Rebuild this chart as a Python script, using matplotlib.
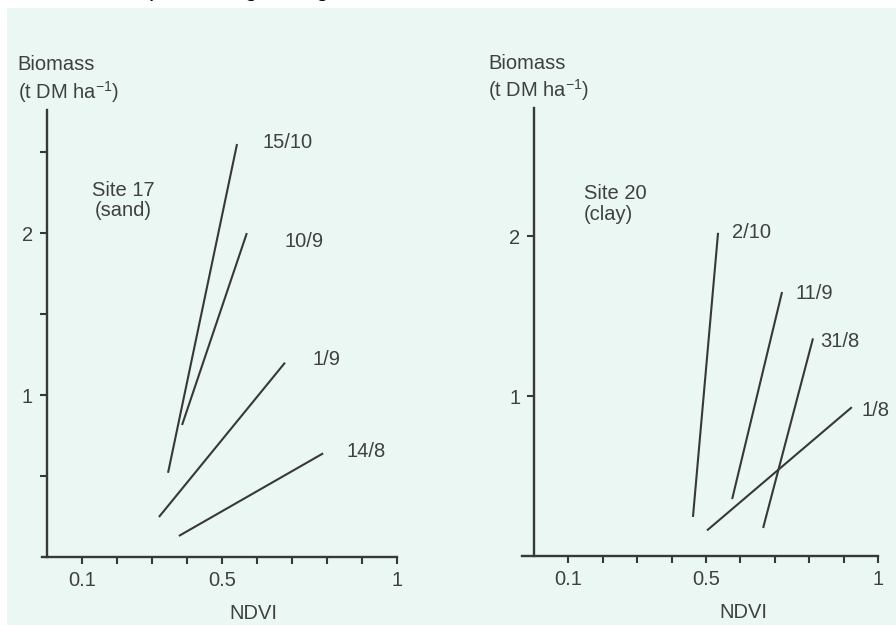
import matplotlib
matplotlib.use('Agg')
import matplotlib.pyplot as plt
from matplotlib.patches import Rectangle

plt.rcParams['font.family'] = ['Liberation Sans', 'DejaVu Sans']
plt.rcParams['mathtext.fontset'] = 'custom'
plt.rcParams['mathtext.rm'] = 'Liberation Sans'
plt.rcParams['mathtext.default'] = 'regular'

# Site 17 (sand): regression lines, one per date
dates_17 = ['15/10', '10/9', '1/9', '14/8']
ndvi_lo_17 = [0.346, 0.386, 0.32, 0.377]
ndvi_hi_17 = [0.543, 0.571, 0.68, 0.789]
bio_lo_17 = [0.52, 0.815, 0.247, 0.13]
bio_hi_17 = [2.55, 2.0, 1.20, 0.64]
lab_x_17 = [0.617, 0.68, 0.76, 0.857]
lab_y_17 = [2.56, 1.95, 1.22, 0.65]

# Site 20 (clay)
dates_20 = ['2/10', '11/9', '31/8', '1/8']
ndvi_lo_20 = [0.462, 0.576, 0.666, 0.503]
ndvi_hi_20 = [0.535, 0.721, 0.811, 0.924]
bio_lo_20 = [0.244, 0.356, 0.175, 0.16]
bio_hi_20 = [2.02, 1.65, 1.36, 0.93]
lab_x_20 = [0.576, 0.759, 0.831, 0.953]
lab_y_20 = [2.02, 1.64, 1.34, 0.91]

x_ticks = [0.1, 0.2, 0.3, 0.4, 0.5, 0.6, 0.7, 0.8, 0.9, 1.0]
x_labels = ['0.1', '', '', '', '0.5', '', '', '', '', '1']

ink = '#383838'
txt = '#404040'
fs = 14.5

fig = plt.figure(figsize=(8.96, 6.25), dpi=100)
fig.patch.set_facecolor('white')
# scanned page background
fig.patches.append(Rectangle((7 / 896, 0), 1, 1 - 8 / 625, transform=fig.transFigure,
                             facecolor='#eaf7f3', edgecolor='none', zorder=-10))
# caption text of the page above, cut off by the crop
fig.text(150 / 896, 1.006, '), showing a longer', fontsize=17, color='black',
         va='baseline', ha='left')


def panel(rect, xlim, ylim, yticks, ytlabels, lo_x, hi_x, lo_y, hi_y,
          names, lx, ly, site, site_x, site_ha, bio_x, ndvi_x):
    ax = fig.add_axes(rect)
    ax.set_facecolor('none')
    for a, b, c, d in zip(lo_x, hi_x, lo_y, hi_y):
        ax.plot([a, b], [c, d], color=ink, lw=1.5, solid_capstyle='butt')
    for n, x, y in zip(names, lx, ly):
        ax.text(x, y, n, fontsize=fs, color=txt, ha='left', va='center')
    ax.set_xlim(*xlim)
    ax.set_ylim(*ylim)
    ax.spines['top'].set_visible(False)
    ax.spines['right'].set_visible(False)
    ax.spines['left'].set_position(('data', 0))
    for s in ['left', 'bottom']:
        ax.spines[s].set_color(ink)
        ax.spines[s].set_linewidth(1.7)
    ax.set_xticks(x_ticks)
    ax.set_xticklabels(x_labels)
    ax.set_yticks(yticks)
    ax.set_yticklabels(ytlabels)
    ax.tick_params(direction='out', length=5, width=1.5, color=ink,
                   labelcolor=txt, labelsize=fs, pad=5)
    ax.text(site_x, 2.2, site, fontsize=fs, color=txt, ha=site_ha, va='center',
            linespacing=1.1)
    ax.text(bio_x, ylim[1] + 0.28, 'Biomass', fontsize=fs, color=txt,
            ha='left', va='center', clip_on=False)
    ax.text(bio_x, ylim[1] + 0.11, '(t DM ha$^{-1}$)', fontsize=fs, color=txt,
            ha='left', va='center', clip_on=False)
    ax.text(ndvi_x, -0.35, 'NDVI', fontsize=fs, color=txt, ha='center',
            va='center', clip_on=False)
    return ax


panel([0.0469, 0.1088, 0.3962, 0.7152], (-0.014, 1.0), (0, 2.76),
      [0.5, 1, 1.5, 2, 2.5], ['', '1', '', '2', ''],
      ndvi_lo_17, ndvi_hi_17, bio_lo_17, bio_hi_17, dates_17, lab_x_17, lab_y_17,
      'Site 17\n(sand)', 0.217, 'center', -0.083, 0.59)

panel([0.5826, 0.1104, 0.3973, 0.7168], (-0.035, 1.0), (0, 2.8),
      [1, 2], ['1', '2'],
      ndvi_lo_20, ndvi_hi_20, bio_lo_20, bio_hi_20, dates_20, lab_x_20, lab_y_20,
      'Site 20\n(clay)', 0.145, 'left', -0.134, 0.61)

fig.savefig('out.png', dpi=100, facecolor=fig.get_facecolor())
